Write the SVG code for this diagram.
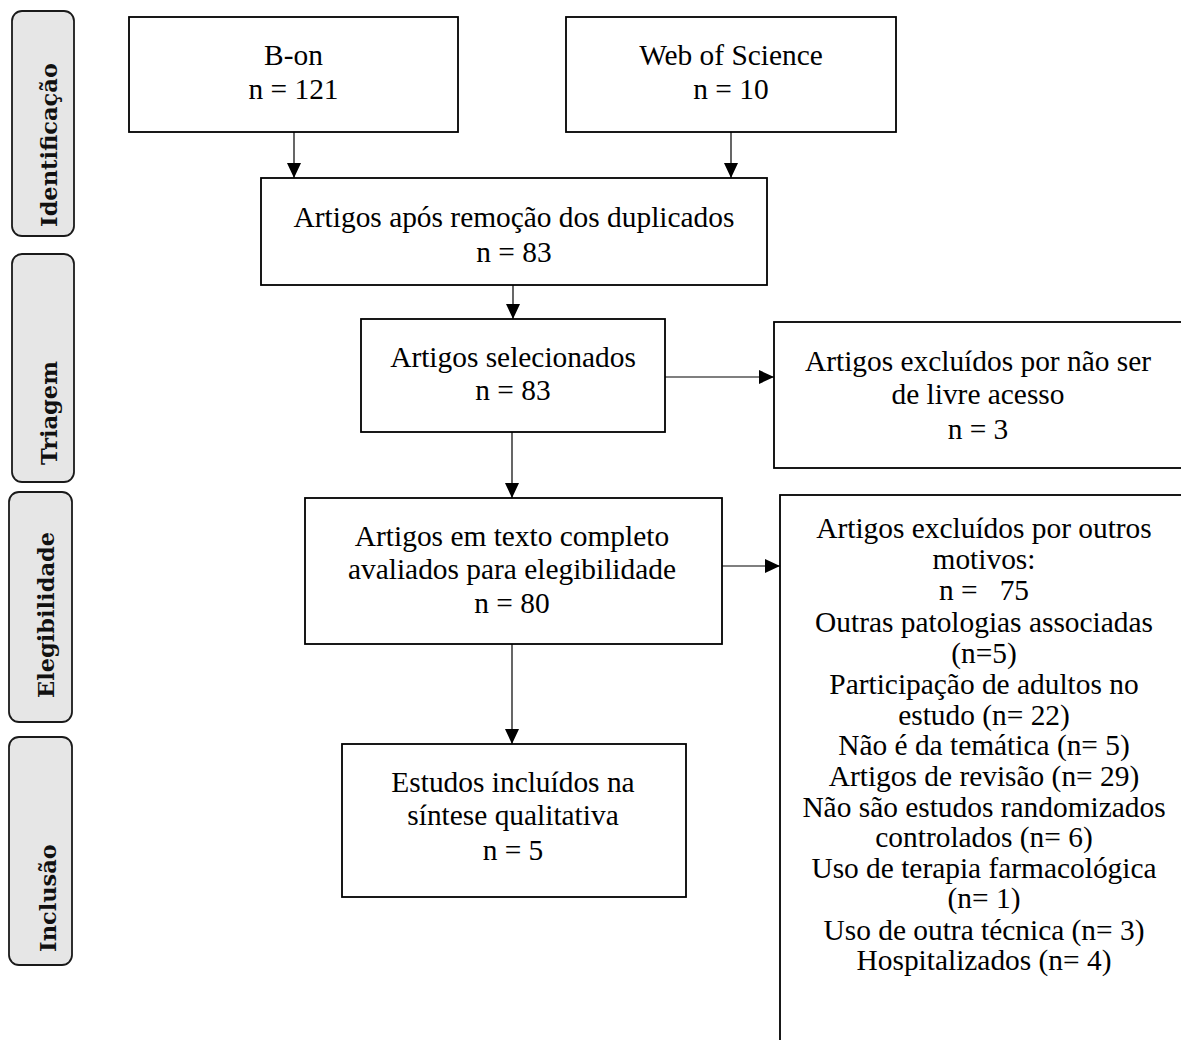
<svg xmlns="http://www.w3.org/2000/svg" width="1181" height="1040" viewBox="0 0 1181 1040">
<style>
.box{fill:#fff;stroke:#000;stroke-width:1.8}
.phase{fill:#e6e6e6;stroke:#1a1a1a;stroke-width:1.8}
.t{font-family:"Liberation Serif","Times New Roman",serif;font-size:29.4px;fill:#000;text-anchor:middle}
.pt{font-family:"DejaVu Serif",serif;font-weight:bold;font-size:22.5px;fill:#111;text-anchor:middle}
.c{stroke:#000;stroke-width:1.2;fill:none}
</style>
<defs>
<marker id="ah" markerWidth="15" markerHeight="14" refX="15" refY="7" orient="auto" markerUnits="userSpaceOnUse">
<path d="M0,0 L15,7 L0,14 Z" fill="#000"/>
</marker>
</defs>
<rect width="1181" height="1040" fill="#fff"/>

<g id="phase-identificacao">
<rect class="phase" x="12" y="11" width="62" height="225" rx="10"/>
<text class="pt" transform="translate(57,145) rotate(-90)">Identificação</text>
</g>
<g id="phase-triagem">
<rect class="phase" x="12" y="254" width="62" height="228" rx="10"/>
<text class="pt" transform="translate(57,413) rotate(-90)">Triagem</text>
</g>
<g id="phase-elegibilidade">
<rect class="phase" x="9" y="492" width="63" height="230" rx="10"/>
<text class="pt" transform="translate(54,615) rotate(-90)">Elegibilidade</text>
</g>
<g id="phase-inclusao">
<rect class="phase" x="9" y="737" width="63" height="228" rx="10"/>
<text class="pt" transform="translate(56,898) rotate(-90)">Inclusão</text>
</g>

<g id="node-bon">
<rect class="box" x="129" y="17" width="329" height="115"/>
<text class="t" x="293.5" y="65">B-on</text>
<text class="t" x="293.5" y="99">n = 121</text>
</g>
<g id="node-wos">
<rect class="box" x="566" y="17" width="330" height="115"/>
<text class="t" x="731" y="65">Web of Science</text>
<text class="t" x="731" y="99">n = 10</text>
</g>
<g id="node-duplicados">
<rect class="box" x="261" y="178" width="506" height="107"/>
<text class="t" x="514" y="227">Artigos após remoção dos duplicados</text>
<text class="t" x="514" y="262">n = 83</text>
</g>
<g id="node-selecionados">
<rect class="box" x="361" y="319" width="304" height="113"/>
<text class="t" x="513" y="367">Artigos selecionados</text>
<text class="t" x="513" y="400">n = 83</text>
</g>
<g id="node-excluidos-acesso">
<rect class="box" x="774" y="322" width="420" height="146"/>
<text class="t" x="978" y="371">Artigos excluídos por não ser</text>
<text class="t" x="978" y="404">de livre acesso</text>
<text class="t" x="978" y="439">n = 3</text>
</g>
<g id="node-elegibilidade">
<rect class="box" x="305" y="498" width="417" height="146"/>
<text class="t" x="512" y="546">Artigos em texto completo</text>
<text class="t" x="512" y="579">avaliados para elegibilidade</text>
<text class="t" x="512" y="613">n = 80</text>
</g>
<g id="node-excluidos-outros">
<rect class="box" x="780" y="495" width="420" height="560"/>
<text class="t" x="984" y="538">Artigos excluídos por outros</text>
<text class="t" x="984" y="569">motivos:</text>
<text class="t" x="984" y="600" xml:space="preserve">n =   75</text>
<text class="t" x="984" y="632">Outras patologias associadas</text>
<text class="t" x="984" y="663">(n=5)</text>
<text class="t" x="984" y="694">Participação de adultos no</text>
<text class="t" x="984" y="725">estudo (n= 22)</text>
<text class="t" x="984" y="755">Não é da temática (n= 5)</text>
<text class="t" x="984" y="786">Artigos de revisão (n= 29)</text>
<text class="t" x="984" y="817">Não são estudos randomizados</text>
<text class="t" x="984" y="847">controlados (n= 6)</text>
<text class="t" x="984" y="878">Uso de terapia farmacológica</text>
<text class="t" x="984" y="908">(n= 1)</text>
<text class="t" x="984" y="940">Uso de outra técnica (n= 3)</text>
<text class="t" x="984" y="970">Hospitalizados (n= 4)</text>
</g>
<g id="node-incluidos">
<rect class="box" x="342" y="744" width="344" height="153"/>
<text class="t" x="513" y="792">Estudos incluídos na</text>
<text class="t" x="513" y="825">síntese qualitativa</text>
<text class="t" x="513" y="860">n = 5</text>
</g>

<g id="connectors">
<line class="c" x1="294" y1="132" x2="294" y2="178" marker-end="url(#ah)"/>
<line class="c" x1="731" y1="132" x2="731" y2="178" marker-end="url(#ah)"/>
<line class="c" x1="513" y1="285" x2="513" y2="319" marker-end="url(#ah)"/>
<line class="c" x1="665" y1="377" x2="774" y2="377" marker-end="url(#ah)"/>
<line class="c" x1="512" y1="432" x2="512" y2="498" marker-end="url(#ah)"/>
<line class="c" x1="722" y1="566" x2="780" y2="566" marker-end="url(#ah)"/>
<line class="c" x1="512" y1="644" x2="512" y2="744" marker-end="url(#ah)"/>
</g>
</svg>
